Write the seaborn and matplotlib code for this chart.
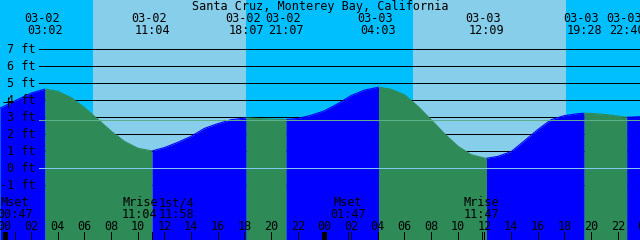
import numpy as np
import pandas as pd
import matplotlib
matplotlib.use("Agg")
import matplotlib.pyplot as plt
import matplotlib.transforms as mtransforms
import seaborn as sns

# ------------------------------------------------------------------ data
title = "Santa Cruz, Monterey Bay, California"

# water level (hours since 03-02 00:00, feet)
level_hours = [-0.34, 0, 1, 2, 4, 5, 6, 7, 8, 9, 10, 11,
               12, 13, 14, 15, 16, 17, 18, 19, 20, 21,
               22, 23, 24, 25, 26, 27, 28, 29, 30, 31, 32, 33, 34, 35, 36,
               37, 38, 39, 40, 41, 42, 43, 44, 45, 46, 47, 47.66]
level_feet = [3.53, 3.66, 4.05, 4.42, 4.53, 4.15, 3.57, 2.88, 2.18, 1.58, 1.18, 1.03,
              1.22, 1.53, 1.88, 2.35, 2.63, 2.86, 2.95, 2.93, 2.90, 2.87,
              2.93, 3.12, 3.38, 3.80, 4.28, 4.60, 4.76, 4.65, 4.32, 3.65, 2.85, 2.03, 1.30, 0.80, 0.60,
              0.70, 0.98, 1.62, 2.28, 2.86, 3.10, 3.21, 3.23, 3.17, 3.07, 3.01, 3.04]

# tide extremes
tide_hours = [3.03, 11.07, 18.12, 21.12, 28.05, 36.15, 43.47, 46.67]
tide_feet = [4.66, 1.02, 2.96, 2.87, 4.77, 0.59, 3.24, 3.00]
tide_dates = ["03-02", "03-02", "03-02", "03-02", "03-03", "03-03", "03-03", "03-03"]
tide_times = ["03:02", "11:04", "18:07", "21:07", "04:03", "12:09", "19:28", "22:40"]

# daylight
sunrise_hours = [6.66, 30.66]
sunset_hours = [18.11, 42.11]

# moon events
moon_hours = [0.78, 11.07, 11.97, 25.78, 35.78]
moon_names = ["Mset", "Mrise", "1st/4", "Mset", "Mrise"]
moon_times = ["00:47", "11:04", "11:58", "01:47", "11:47"]

# axes text
hour_ticks = [0, 2, 4, 6, 8, 10, 12, 14, 16, 18, 20, 22,
              24, 26, 28, 30, 32, 34, 36, 38, 40, 42, 44, 46, 48]
hour_labels = ["00", "02", "04", "06", "08", "10", "12", "14", "16", "18", "20", "22",
               "00", "02", "04", "06", "08", "10", "12", "14", "16", "18", "20", "22", "00"]
ft_values = [-1, 0, 1, 2, 3, 4, 5, 6, 7]
ft_labels = ["-1 ft", "0 ft", "1 ft", "2 ft", "3 ft", "4 ft", "5 ft", "6 ft", "7 ft"]
mean_level = 2.82
now_hour = 0.30
now_level = 3.90

# ------------------------------------------------------------------ style
sns.set_style("white")
plt.rcParams["font.family"] = ["DejaVu Sans Mono", "DejaVu Sans"]

W, H = 640, 240
PX_PER_H = 13.333
X0_PX = 4.5                       # pixel of hour 0
ZERO_PY, PX_PER_FT = 168.3, 17.0  # pixel row of 0 ft, pixels per foot

COL_NIGHT = "#00BFFF"
COL_DAY = "#87CEEB"
COL_RISE = "#0000FF"
COL_FALL = "#2E8B57"
FS = 8.5

fig = plt.figure(figsize=(W / 100, H / 100), dpi=100)
ax = fig.add_axes([0, 0, 1, 1])
xlim = (-X0_PX / PX_PER_H, (W - X0_PX) / PX_PER_H)
ylim = ((ZERO_PY - H) / PX_PER_FT, ZERO_PY / PX_PER_FT)
ax.set_xlim(*xlim)
ax.set_ylim(*ylim)
ax.axis("off")

# sky
edges = [xlim[0]]
for r, s in zip(sunrise_hours, sunset_hours):
    edges += [r, s]
edges.append(xlim[1])
for i in range(len(edges) - 1):
    ax.axvspan(edges[i], edges[i + 1], color=COL_DAY if i % 2 else COL_NIGHT,
               lw=0, zorder=0, antialiased=False)

# grid lines (behind the water)
gx0 = 39 / W
for v in ft_values:
    ax.axhline(v, xmin=gx0, xmax=1, color="black", lw=0.72, zorder=1, antialiased=False)

# water
df = pd.DataFrame({"hour": level_hours + tide_hours, "feet": level_feet + tide_feet})
df = df.sort_values("hour").reset_index(drop=True)
bounds = [level_hours[0]] + tide_hours + [level_hours[-1]]
parts = []
for i in range(len(bounds) - 1):
    a, b = bounds[i], bounds[i + 1]
    seg = df[(df.hour >= a) & (df.hour <= b)].copy()
    phase = "falling" if seg.feet.iloc[-1] < seg.feet.iloc[0] else "rising"
    seg["phase"] = phase
    seg["seg"] = i
    parts.append(seg)
    ax.fill_between(seg.hour, seg.feet, ylim[0],
                    color=COL_FALL if phase == "falling" else COL_RISE,
                    lw=0, zorder=2, antialiased=False)
wdf = pd.concat(parts, ignore_index=True)
sns.lineplot(data=wdf, x="hour", y="feet", hue="phase", units="seg", estimator=None,
             palette={"rising": COL_RISE, "falling": COL_FALL}, legend=False,
             lw=0.8, ax=ax, zorder=3)
ax.set_xlim(*xlim)
ax.set_ylim(*ylim)
ax.axis("off")

# mean level and datum lines (over water)
ax.axhline(mean_level, xmin=gx0, xmax=1, color="#5DAE8B", lw=0.72, zorder=4, antialiased=False)
ax.axhline(0, xmin=gx0, xmax=1, color="#7FC8F0", lw=0.72, zorder=4, antialiased=False)

# y labels
ytr = mtransforms.offset_copy(
    mtransforms.blended_transform_factory(fig.transFigure, ax.transData),
    fig=fig, y=-4.0, units="dots")
for v, lab in zip(ft_values, ft_labels):
    ax.text(35.5 / W, v, lab, transform=ytr, ha="right", va="baseline",
            fontsize=FS, color="black", zorder=6)

# text rows (x in hours, y in pixels from top)
tr = mtransforms.blended_transform_factory(ax.transData, fig.transFigure)
def row(py):
    return 1 - py / H

fig.text(0.5, row(10), title, ha="center", va="baseline", fontsize=FS, color="black")

date_tr = mtransforms.offset_copy(tr, fig=fig, x=-3, units="dots")
for h, d, t in zip(tide_hours, tide_dates, tide_times):
    ax.text(h, row(22), d, transform=date_tr, ha="center", va="baseline",
            fontsize=FS, color="black", clip_on=False, zorder=6)
    ax.text(h, row(34.3), t, transform=tr, ha="center", va="baseline",
            fontsize=FS, color="black", clip_on=False, zorder=6)

# moon labels, pushed apart when they would overlap
lab_w = 36.5 / PX_PER_H
centers = list(moon_hours)
for i in range(len(centers) - 1):
    gap = centers[i + 1] - centers[i]
    if gap < lab_w:
        mid = (centers[i] + centers[i + 1]) / 2
        centers[i] = mid - lab_w / 2
        centers[i + 1] = mid + lab_w / 2
for c, n, t in zip(centers, moon_names, moon_times):
    ax.text(c, row(206), n, transform=tr, ha="center", va="baseline",
            fontsize=FS, color="black", zorder=6)
    ax.text(c, row(218.3), t, transform=tr, ha="center", va="baseline",
            fontsize=FS, color="black", zorder=6)

# hour labels and tick marks
for h, lab in zip(hour_ticks, hour_labels):
    ax.text(h, row(230), lab, transform=tr, ha="center", va="baseline",
            fontsize=FS, color="black", zorder=6, clip_on=False)
xtr = ax.get_xaxis_transform()
tick_top = 8.5 / H
for h in hour_ticks:
    ax.plot([h, h], [0, tick_top], transform=xtr, color="black",
            lw=2.2 if h % 24 == 0 else 0.72, zorder=6, antialiased=False,
            solid_capstyle="butt")
for h in moon_hours:
    ax.plot([h, h], [0, tick_top], transform=xtr, color="black",
            lw=0.72, zorder=6, antialiased=False, solid_capstyle="butt")

# current-time cross
ax.plot([now_hour], [now_level], marker="+", ms=7.5, mew=0.72, color="black",
        zorder=7, antialiased=False)

fig.savefig("out.png", dpi=100)
